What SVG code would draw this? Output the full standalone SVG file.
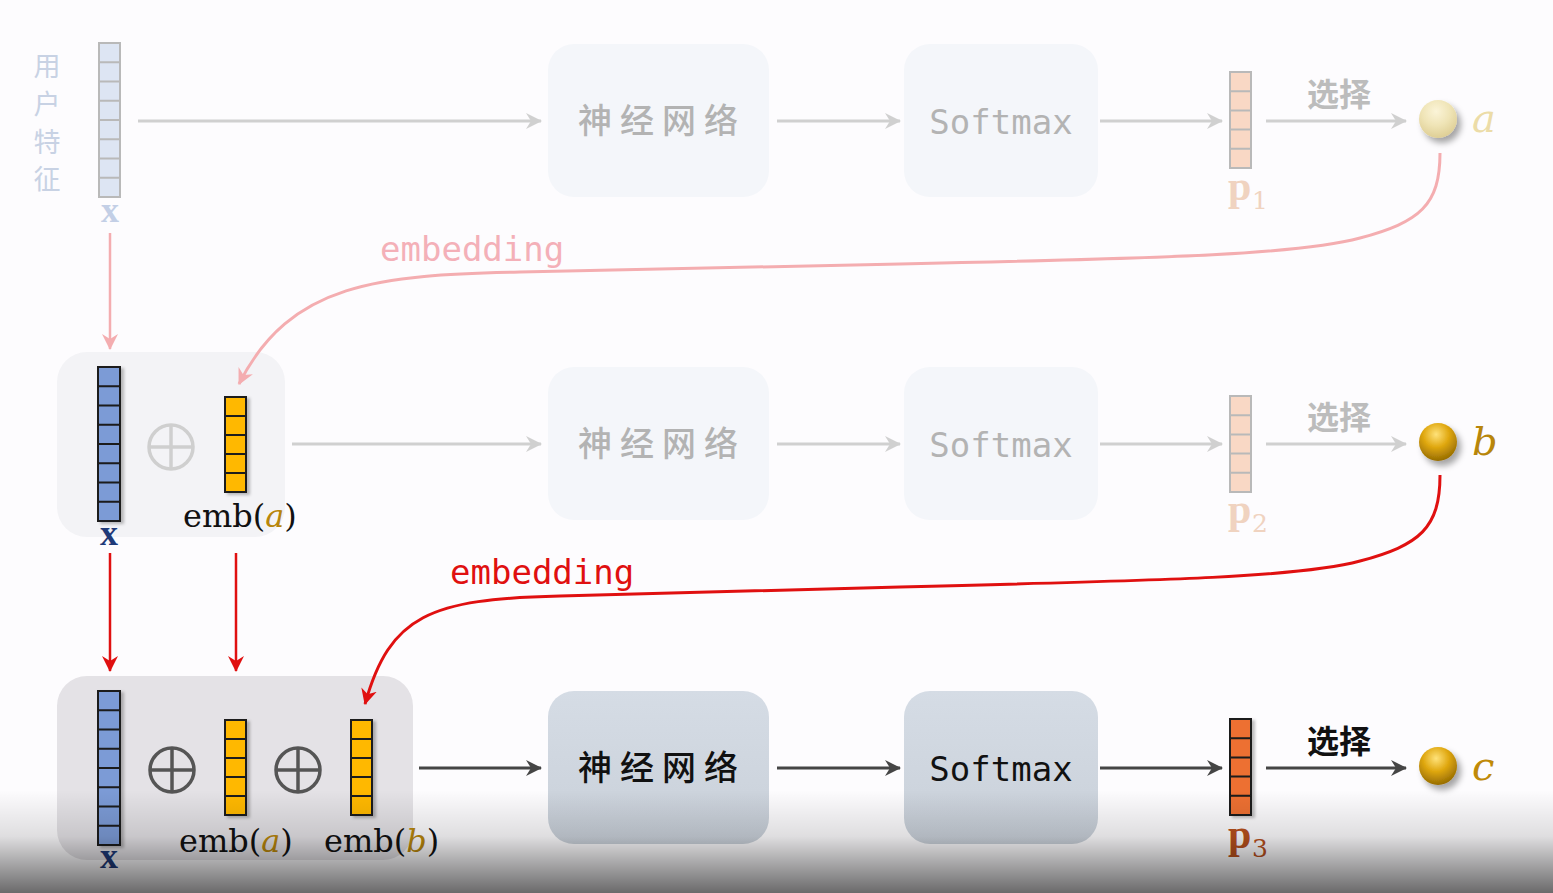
<svg xmlns="http://www.w3.org/2000/svg" width="1553" height="893" viewBox="0 0 1553 893">
<defs>
<style>
.cjk{font-family:"Noto Sans CJK SC","Noto Sans CJK TC",sans-serif;}
.mono{font-family:"DejaVu Sans Mono","Liberation Mono",monospace;}
.ser{font-family:"DejaVu Serif","Liberation Serif",serif;}
.bser{font-family:"Liberation Serif","DejaVu Serif",serif;font-weight:bold;}
.boxL{fill:#f4f6fa;}
.boxD{fill:url(#boxg);}
.gl{stroke:#d0d0d0;stroke-width:3;fill:none;}
.dk{stroke:#454545;stroke-width:3;fill:none;}
.cellL{stroke:#b9b9b9;stroke-width:2;}
.cellD{stroke:#1a1a1a;stroke-width:2;}
.sel{font-size:32px;font-weight:bold;}
</style>
<linearGradient id="boxg" x1="0" y1="0" x2="0" y2="1">
<stop offset="0" stop-color="#d5dce5"/><stop offset="1" stop-color="#c9d0d9"/>
</linearGradient>
<linearGradient id="shade" x1="0" y1="0" x2="0" y2="1">
<stop offset="0" stop-color="#000" stop-opacity="0"/>
<stop offset="0.45" stop-color="#000" stop-opacity="0.12"/>
<stop offset="1" stop-color="#000" stop-opacity="0.58"/>
</linearGradient>
<radialGradient id="gold" cx="0.45" cy="0.3" r="0.75">
<stop offset="0" stop-color="#ffe27a"/><stop offset="0.45" stop-color="#e0a810"/><stop offset="1" stop-color="#8c6400"/>
</radialGradient>
<radialGradient id="pale" cx="0.45" cy="0.3" r="0.75">
<stop offset="0" stop-color="#fbf4d8"/><stop offset="0.5" stop-color="#efe4b6"/><stop offset="1" stop-color="#dccb90"/>
</radialGradient>
<filter id="sh" x="-50%" y="-50%" width="200%" height="200%">
<feDropShadow dx="4" dy="5" stdDeviation="3" flood-color="#000" flood-opacity="0.35"/>
</filter>
<filter id="vsh" x="-50%" y="-20%" width="200%" height="140%">
<feDropShadow dx="3" dy="2" stdDeviation="1.5" flood-color="#000" flood-opacity="0.25"/>
</filter>
<marker id="mG" markerUnits="userSpaceOnUse" markerWidth="18" markerHeight="16" refX="15" refY="8" orient="auto">
<path d="M0,0 L16,8 L0,16 L5,8 z" fill="#d0d0d0"/>
</marker>
<marker id="mD" markerUnits="userSpaceOnUse" markerWidth="18" markerHeight="16" refX="15" refY="8" orient="auto">
<path d="M0,0 L16,8 L0,16 L5,8 z" fill="#454545"/>
</marker>
<marker id="mP" markerUnits="userSpaceOnUse" markerWidth="18" markerHeight="16" refX="15" refY="8" orient="auto">
<path d="M0,0 L16,8 L0,16 L5,8 z" fill="#f4adb0"/>
</marker>
<marker id="mR" markerUnits="userSpaceOnUse" markerWidth="18" markerHeight="16" refX="15" refY="8" orient="auto">
<path d="M0,0 L16,8 L0,16 L5,8 z" fill="#e01010"/>
</marker>
</defs>

<rect x="0" y="0" width="1553" height="893" fill="#fdfcfe"/>

<!-- containers -->
<g id="container2"><rect x="57" y="352" width="228" height="185" rx="30" fill="#f3f3f6"/></g>
<g id="container3"><rect x="57" y="676" width="356" height="184" rx="30" fill="#e4e2e6"/></g>

<!-- Row 1 -->
<g id="userfeat" class="cjk" fill="#c8d2e4" font-size="27" text-anchor="middle">
<text x="47" y="76">用</text><text x="47" y="114">户</text><text x="47" y="152">特</text><text x="47" y="189">征</text>
</g>
<g id="x1">
<rect x="99" y="43" width="21" height="154" fill="#dde5f3" class="cellL"/>
<path class="cellL" d="M99,62.25H120M99,81.5H120M99,100.75H120M99,120H120M99,139.25H120M99,158.5H120M99,177.75H120"/>
<text x="110" y="222" class="bser" font-size="36" fill="#c3cfe6" text-anchor="middle">x</text>
</g>
<g id="nn1"><rect x="548" y="44" width="221" height="153" rx="26" class="boxL"/>
<text x="662" y="133" class="cjk" font-size="34" font-weight="500" letter-spacing="8" fill="#b3b3b3" text-anchor="middle">神经网络</text></g>
<g id="sm1"><rect x="904" y="44" width="194" height="153" rx="26" class="boxL"/>
<text x="1001" y="134" class="mono" font-size="34" fill="#b3b3b3" text-anchor="middle">Softmax</text></g>
<g id="p1">
<rect x="1230" y="72" width="21" height="96" fill="#f9d8c5" class="cellL"/>
<path class="cellL" d="M1230,91.2H1251M1230,110.4H1251M1230,129.6H1251M1230,148.8H1251"/>
<text x="1228" y="200" class="bser" font-size="42" fill="#f0d3c0">p</text>
<text x="1252" y="209" class="ser" font-size="25" fill="#f0d3c0">1</text>
</g>
<g id="sel1"><text x="1339" y="106" class="cjk sel" fill="#bcbcbc" text-anchor="middle">选择</text></g>
<g id="ballA"><circle cx="1438" cy="119" r="19" fill="url(#pale)" filter="url(#sh)"/>
<text x="1472" y="132" class="ser" font-style="italic" font-size="40" fill="#ecdca8">a</text></g>

<!-- Row 2 -->
<g id="x2" filter="url(#vsh)">
<rect x="98" y="367" width="22" height="154" fill="#7b9bd6" class="cellD"/>
<path class="cellD" d="M98,386.25H120M98,405.5H120M98,424.75H120M98,444H120M98,463.25H120M98,482.5H120M98,501.75H120"/>
</g>
<text x="109" y="545" class="bser" font-size="36" fill="#1f3a78" text-anchor="middle">x</text>
<g id="plus2"><circle cx="171" cy="447" r="22" fill="none" stroke="#cfcfcf" stroke-width="3.5"/>
<path d="M149,447H193M171,425V469" stroke="#cfcfcf" stroke-width="3.5"/></g>
<g id="emba2">
<g filter="url(#vsh)"><rect x="225" y="397" width="21" height="95" fill="#ffb800" class="cellD"/>
<path class="cellD" d="M225,416H246M225,435H246M225,454H246M225,473H246"/></g>
<text x="183" y="527" class="ser" font-size="32" fill="#111">emb(<tspan font-style="italic" fill="#b8860b">a</tspan>)</text>
</g>
<g id="nn2"><rect x="548" y="367" width="221" height="153" rx="26" class="boxL"/>
<text x="662" y="456" class="cjk" font-size="34" font-weight="500" letter-spacing="8" fill="#b3b3b3" text-anchor="middle">神经网络</text></g>
<g id="sm2"><rect x="904" y="367" width="194" height="153" rx="26" class="boxL"/>
<text x="1001" y="457" class="mono" font-size="34" fill="#b3b3b3" text-anchor="middle">Softmax</text></g>
<g id="p2">
<rect x="1230" y="396" width="21" height="96" fill="#f9d8c5" class="cellL"/>
<path class="cellL" d="M1230,415.2H1251M1230,434.4H1251M1230,453.6H1251M1230,472.8H1251"/>
<text x="1228" y="523" class="bser" font-size="42" fill="#f0d3c0">p</text>
<text x="1252" y="532" class="ser" font-size="25" fill="#f0d3c0">2</text>
</g>
<g id="sel2"><text x="1339" y="429" class="cjk sel" fill="#bcbcbc" text-anchor="middle">选择</text></g>
<g id="ballB"><circle cx="1438" cy="442" r="19" fill="url(#gold)" filter="url(#sh)"/>
<text x="1472" y="455" class="ser" font-style="italic" font-size="40" fill="#b8860b">b</text></g>

<!-- Row 3 -->
<g id="x3" filter="url(#vsh)">
<rect x="98" y="691" width="22" height="154" fill="#7b9bd6" class="cellD"/>
<path class="cellD" d="M98,710.25H120M98,729.5H120M98,748.75H120M98,768H120M98,787.25H120M98,806.5H120M98,825.75H120"/>
</g>
<text x="109" y="868" class="bser" font-size="36" fill="#1f3a78" text-anchor="middle">x</text>
<g id="plus3a"><circle cx="172" cy="770" r="22" fill="none" stroke="#555" stroke-width="3.5"/>
<path d="M150,770H194M172,748V792" stroke="#555" stroke-width="3.5"/></g>
<g id="emba3">
<g filter="url(#vsh)"><rect x="225" y="720" width="21" height="95" fill="#ffb800" class="cellD"/>
<path class="cellD" d="M225,739H246M225,758H246M225,777H246M225,796H246"/></g>
<text x="179" y="852" class="ser" font-size="32" fill="#111">emb(<tspan font-style="italic" fill="#b8860b">a</tspan>)</text>
</g>
<g id="plus3b"><circle cx="298" cy="770" r="22" fill="none" stroke="#555" stroke-width="3.5"/>
<path d="M276,770H320M298,748V792" stroke="#555" stroke-width="3.5"/></g>
<g id="embb3">
<g filter="url(#vsh)"><rect x="351" y="720" width="21" height="95" fill="#ffb800" class="cellD"/>
<path class="cellD" d="M351,739H372M351,758H372M351,777H372M351,796H372"/></g>
<text x="324" y="852" class="ser" font-size="32" fill="#111">emb(<tspan font-style="italic" fill="#b8860b">b</tspan>)</text>
</g>
<g id="nn3"><rect x="548" y="691" width="221" height="153" rx="26" class="boxD"/>
<text x="662" y="780" class="cjk" font-size="34" font-weight="500" letter-spacing="8" fill="#111" text-anchor="middle">神经网络</text></g>
<g id="sm3"><rect x="904" y="691" width="194" height="153" rx="26" class="boxD"/>
<text x="1001" y="781" class="mono" font-size="34" fill="#111" text-anchor="middle">Softmax</text></g>
<g id="p3">
<g filter="url(#vsh)"><rect x="1230" y="719" width="21" height="96" fill="#ed7030" class="cellD"/>
<path class="cellD" d="M1230,738.2H1251M1230,757.4H1251M1230,776.6H1251M1230,795.8H1251"/></g>
<text x="1228" y="848" class="bser" font-size="42" fill="#b8501c">p</text>
<text x="1252" y="857" class="ser" font-size="25" fill="#b8501c">3</text>
</g>
<g id="sel3"><text x="1339" y="753" class="cjk sel" fill="#111" text-anchor="middle">选择</text></g>
<g id="ballC"><circle cx="1438" cy="766" r="19" fill="url(#gold)" filter="url(#sh)"/>
<text x="1472" y="780" class="ser" font-style="italic" font-size="40" fill="#c08a08">c</text></g>

<!-- connectors -->
<g id="connectors">
<path class="gl" d="M138,121H541" marker-end="url(#mG)"/>
<path class="gl" d="M777,121H900" marker-end="url(#mG)"/>
<path class="gl" d="M1100,121H1222" marker-end="url(#mG)"/>
<path class="gl" d="M1266,121H1406" marker-end="url(#mG)"/>
<path class="gl" d="M292,444H541" marker-end="url(#mG)"/>
<path class="gl" d="M777,444H900" marker-end="url(#mG)"/>
<path class="gl" d="M1100,444H1222" marker-end="url(#mG)"/>
<path class="gl" d="M1266,444H1406" marker-end="url(#mG)"/>
<path class="dk" d="M419,768H541" marker-end="url(#mD)"/>
<path class="dk" d="M777,768H900" marker-end="url(#mD)"/>
<path class="dk" d="M1100,768H1222" marker-end="url(#mD)"/>
<path class="dk" d="M1266,768H1406" marker-end="url(#mD)"/>
<path d="M110,233V349" stroke="#f4adb0" stroke-width="2.5" fill="none" marker-end="url(#mP)"/>
<path d="M1440,153 C1440,205 1420,222 1360,238 C1300,254 1180,258 900,264 L520,272 C380,275 290,282 239,384" stroke="#f4adb0" stroke-width="3" fill="none" marker-end="url(#mP)"/>
<text x="380" y="261" class="mono" font-size="34" fill="#f4b0b8">embedding</text>
<path d="M110,553V671" stroke="#e01010" stroke-width="2.5" fill="none" marker-end="url(#mR)"/>
<path d="M236,553V671" stroke="#e01010" stroke-width="2.5" fill="none" marker-end="url(#mR)"/>
<path d="M1440,475 C1440,528 1420,545 1360,561 C1300,577 1180,580 900,587 L560,596 C430,599 390,615 365,704" stroke="#e01010" stroke-width="3" fill="none" marker-end="url(#mR)"/>
<text x="450" y="584" class="mono" font-size="34" fill="#e01010">embedding</text>
</g>

<rect x="0" y="790" width="1553" height="103" fill="url(#shade)"/>
</svg>
